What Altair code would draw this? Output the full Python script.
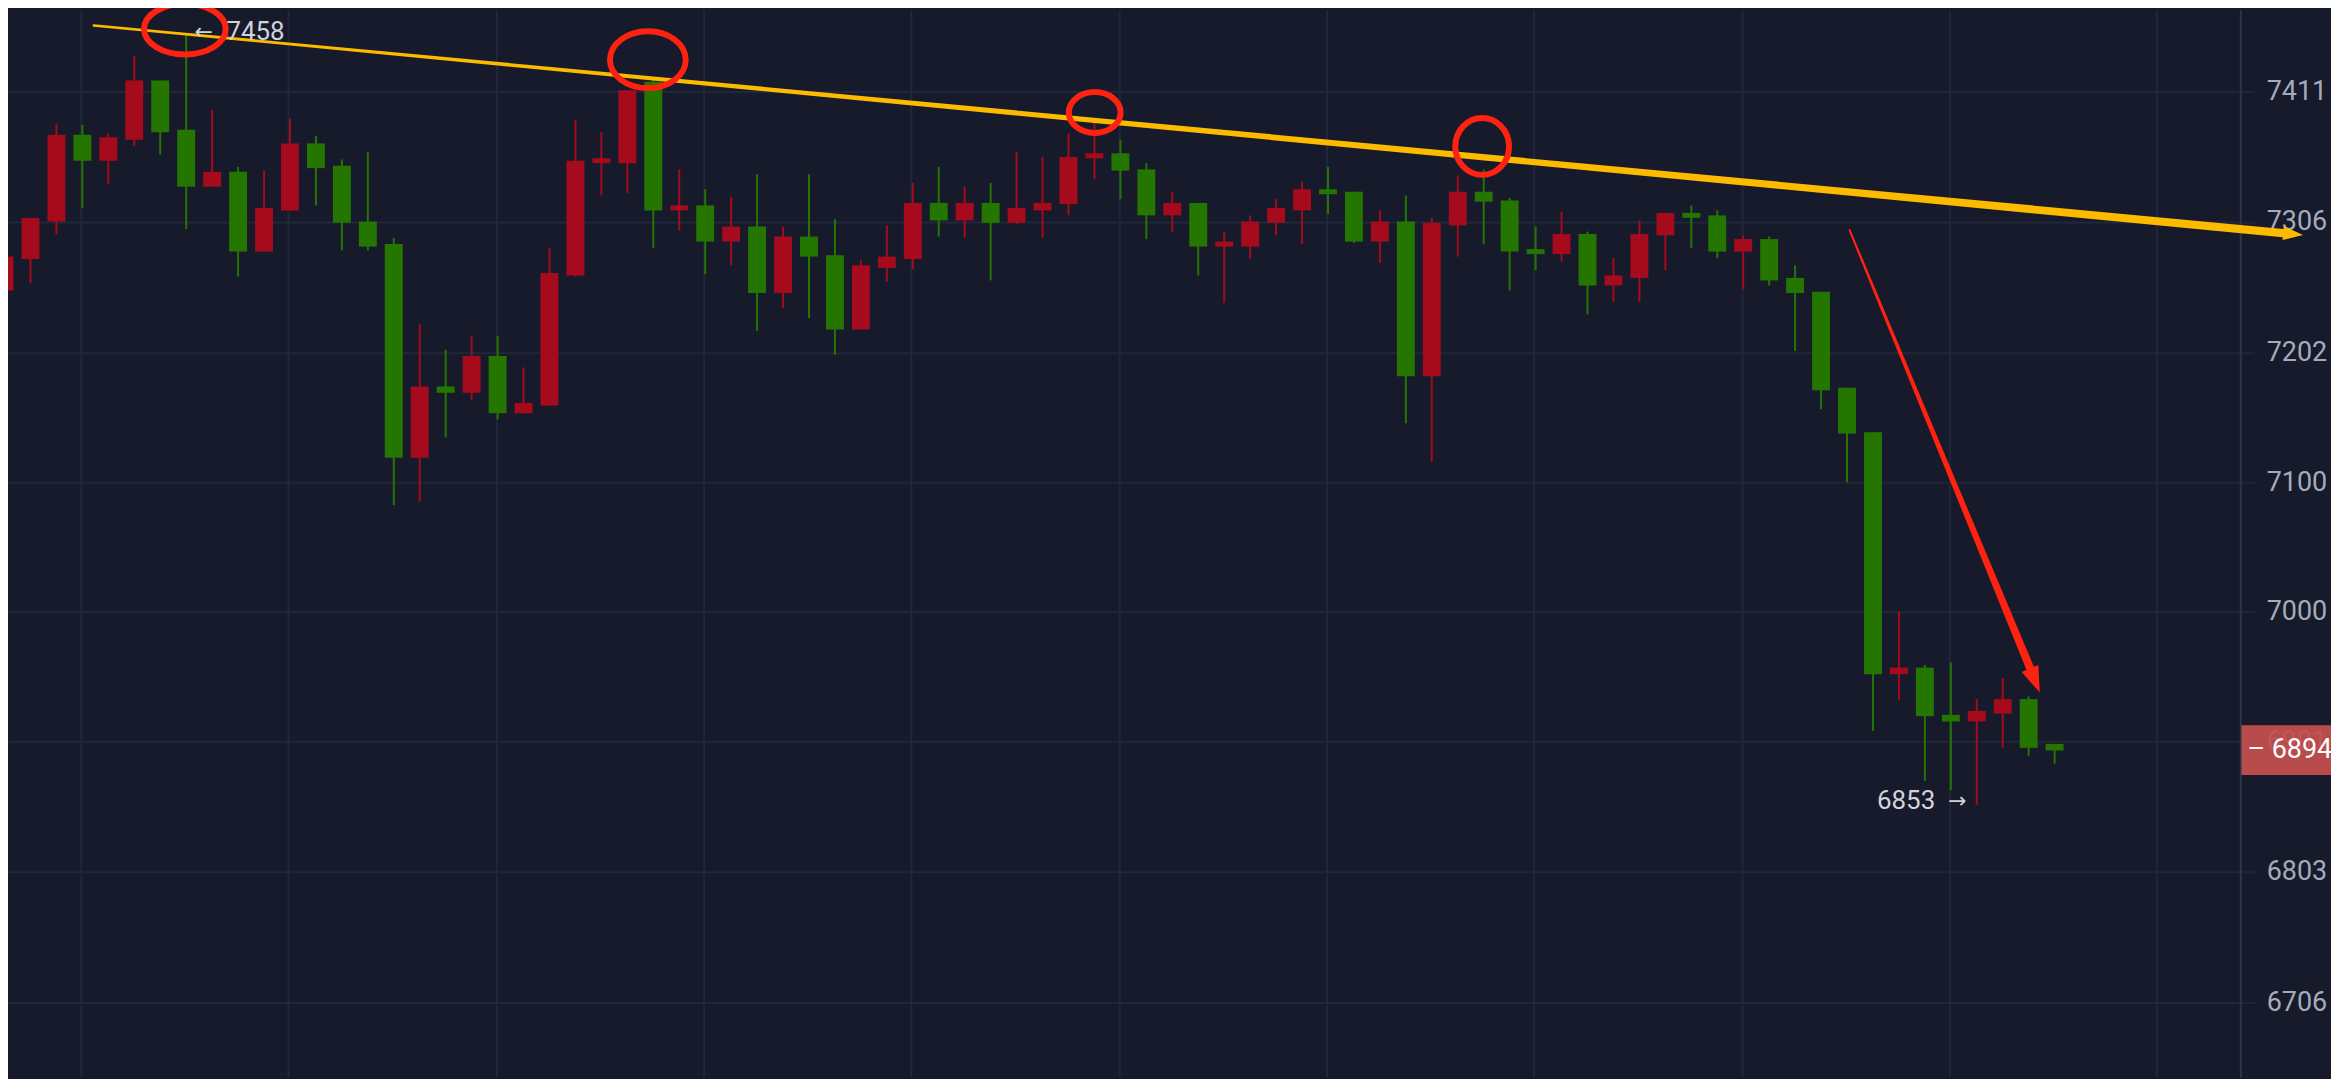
import altair as alt
import pandas as pd

# ---- candle data (index 0..79), prices ----
opens = [7251, 7276, 7306, 7376, 7355, 7372, 7420, 7380, 7334, 7346,
         7282, 7315, 7369, 7351, 7306, 7288, 7119, 7175, 7170, 7199,
         7154, 7160, 7263, 7353, 7353, 7419, 7315, 7319, 7290, 7302,
         7249, 7294, 7279, 7220, 7269, 7276, 7321, 7307, 7321, 7305,
         7315, 7320, 7357, 7361, 7348, 7311, 7321, 7286, 7286, 7305,
         7315, 7332, 7330, 7290, 7306, 7183, 7303, 7330, 7323, 7284,
         7280, 7296, 7255, 7261, 7295, 7313, 7311, 7282, 7292, 7261,
         7250, 7174, 7139, 6952, 6957, 6921, 6916, 6922, 6933, 6899]
highs = [7298, 7309, 7385, 7384, 7377, 7440, 7420, 7458, 7396, 7350,
         7347, 7389, 7375, 7356, 7362, 7293, 7224, 7204, 7215, 7215,
         7190, 7285, 7388, 7378, 7412, 7422, 7348, 7332, 7326, 7344,
         7302, 7344, 7308, 7275, 7303, 7337, 7350, 7334, 7337, 7362,
         7358, 7377, 7386, 7372, 7353, 7330, 7321, 7298, 7311, 7324,
         7338, 7350, 7330, 7315, 7327, 7309, 7343, 7348, 7325, 7302,
         7314, 7298, 7277, 7307, 7313, 7319, 7315, 7295, 7294, 7271,
         7250, 7174, 7139, 7000, 6959, 6961, 6933, 6949, 6935, 6899]
lows = [7243, 7257, 7296, 7317, 7336, 7367, 7360, 7300, 7334, 7262,
        7282, 7315, 7319, 7283, 7283, 7082, 7085, 7135, 7164, 7149,
        7154, 7160, 7262, 7327, 7329, 7285, 7299, 7264, 7271, 7219,
        7237, 7229, 7200, 7220, 7258, 7268, 7294, 7293, 7259, 7304,
        7293, 7311, 7340, 7324, 7292, 7298, 7263, 7241, 7276, 7295,
        7288, 7312, 7289, 7273, 7146, 7116, 7278, 7288, 7251, 7267,
        7274, 7232, 7242, 7242, 7267, 7285, 7277, 7252, 7255, 7203,
        7157, 7100, 6909, 6932, 6871, 6864, 6853, 6896, 6890, 6884]
closes = [7278, 7309, 7376, 7355, 7374, 7420, 7378, 7334, 7346, 7282,
          7317, 7369, 7349, 7305, 7286, 7119, 7175, 7170, 7199, 7154,
          7162, 7265, 7355, 7357, 7412, 7315, 7319, 7290, 7302, 7249,
          7294, 7278, 7220, 7271, 7278, 7321, 7307, 7321, 7305, 7317,
          7321, 7358, 7361, 7347, 7311, 7321, 7286, 7290, 7306, 7317,
          7332, 7328, 7290, 7306, 7183, 7305, 7330, 7322, 7282, 7280,
          7296, 7255, 7263, 7296, 7313, 7309, 7282, 7292, 7259, 7249,
          7172, 7138, 6952, 6957, 6920, 6916, 6924, 6933, 6896, 6894]

price_ticks = [6706, 6803, 6901, 7000, 7100, 7202, 7306, 7411]
time_grid = [2.94, 10.94, 18.94, 26.94, 34.94, 42.94, 50.94, 58.94, 66.94, 74.94, 82.94]

# yellow trend line (start, arrow base) and its arrow head
trend_i = [3.44, 87.8]
trend_p = [7465, 7296.8]
trend_w = [2.5, 8.5]
trend_head_i = [88.19]
trend_head_p = [7296.0]

# red down arrow
down_i = [71.1, 78.06]
down_p = [7299.2, 6956.4]
down_w = [2, 8]
down_head_i = [78.24]
down_head_p = [6947.2]

# red ellipses around touch points
ell_i = [6.95, 24.79, 42.01, 56.94]
ell_p = [7462, 7437, 7394, 7366.5]
ell_w = [82, 76, 52, 54]
ell_h = [51, 57, 41, 57]

# text labels: high marker and low marker (number + arrow)
hi_value = "7458"
hi_value_i = [8.55]
hi_arrow_i = [7.32]
hi_label_p = [7459.9]
lo_value = "6853"
lo_value_i = [74.40]
lo_arrow_i = [74.90]
lo_label_p = [6856]
last_price = 6894
last_box_i = [86.2, 89.7]
last_box_p = [6875.4, 6913.1]
last_text_i = [86.43]

BG = "#161a2a"
GRID = "#21273a"
AXIS_LINE = "#2c3550"
LABEL = "#a6abbb"
RED_C = "#a50b1d"
GREEN_C = "#247600"
YELLOW = "#fdbb00"
ANNOT = "#ff2211"
BOX = "#c5504f"
TEXT_C = "#d1d4dc"

candles = pd.DataFrame({"i": list(range(len(opens))), "open": opens, "high": highs,
                        "low": lows, "close": closes})

xscale = alt.Scale(domain=[0.134, 86.156], nice=False, zero=False)
yscale = alt.Scale(type="log", domain=[6651.2, 7477.8], nice=False, zero=False)
xaxis = alt.Axis(values=time_grid, labels=False, ticks=False, domain=False, grid=True,
                 gridColor=GRID, gridWidth=2, title=None)
yaxis = alt.Axis(orient="right", values=price_ticks, format="d", grid=True, gridColor=GRID,
                 gridWidth=2, ticks=True, tickColor=GRID, tickWidth=2, tickSize=14,
                 domain=True, domainColor=AXIS_LINE, domainWidth=2, labelColor=LABEL,
                 labelFont="Roboto", labelFontSize=27, labelPadding=12, labelFlush=False,
                 labelOverlap=False, title=None)


def X(field):
    return alt.X(field, type="quantitative", scale=xscale, axis=xaxis)


def Y(field):
    return alt.Y(field, type="quantitative", scale=yscale, axis=yaxis)


color_cond = alt.condition("datum.close >= datum.open", alt.value(RED_C), alt.value(GREEN_C))

wicks = alt.Chart(candles).mark_rule(strokeWidth=2).encode(
    x=X("i"), y=Y("low"), y2="high", color=color_cond)

bodies = alt.Chart(candles).transform_calculate(
    lo="datum.i - 0.3456", hi="datum.i + 0.3456"
).mark_rect().encode(x=X("lo"), x2="hi", y=Y("open"), y2="close", color=color_cond)

HEAD = "M0,-1L0.7,1L-0.7,1Z"

trend_df = pd.DataFrame({"i": trend_i, "p": trend_p, "w": trend_w})
yellow_line = alt.Chart(trend_df).mark_trail(color=YELLOW, clip=False).encode(
    x=X("i"), y=Y("p"), size=alt.Size("w:Q", scale=None, legend=None))
yellow_head = alt.Chart(pd.DataFrame({"i": trend_head_i, "p": trend_head_p})).mark_point(
    shape=HEAD, filled=True, color=YELLOW, opacity=1, size=400, angle=95.4, clip=False
).encode(x=X("i"), y=Y("p"))

down_df = pd.DataFrame({"i": down_i, "p": down_p, "w": down_w})
red_line = alt.Chart(down_df).mark_trail(color=ANNOT, clip=False).encode(
    x=X("i"), y=Y("p"), size=alt.Size("w:Q", scale=None, legend=None))
red_head = alt.Chart(pd.DataFrame({"i": down_head_i, "p": down_head_p})).mark_point(
    shape=HEAD, filled=True, color=ANNOT, opacity=1, size=676, angle=157.6, clip=False
).encode(x=X("i"), y=Y("p"))

ellipses = []
for ei, ep, ew, eh in zip(ell_i, ell_p, ell_w, ell_h):
    if ew >= eh:
        rx, ry, d = 1.0, eh / ew, ew
    else:
        rx, ry, d = ew / eh, 1.0, eh
    path = (f"M{-rx:.3f},0A{rx:.3f},{ry:.3f} 0 1,0 {rx:.3f},0"
            f"A{rx:.3f},{ry:.3f} 0 1,0 {-rx:.3f},0Z")
    ellipses.append(
        alt.Chart(pd.DataFrame({"i": [ei], "p": [ep]})).mark_point(
            shape=path, filled=False, stroke=ANNOT, strokeWidth=6, opacity=1,
            size=d * d, clip=False
        ).encode(x=X("i"), y=Y("p"))
    )


def label(xs, ps, txt, align, font, size):
    return alt.Chart(pd.DataFrame({"i": xs, "p": ps, "t": [txt]})).mark_text(
        align=align, baseline="middle", font=font, fontSize=size, color=TEXT_C, clip=False
    ).encode(x=X("i"), y=Y("p"), text="t:N")


hi_text = label(hi_value_i, hi_label_p, hi_value, "left", "Roboto", 26)
hi_arrow = label(hi_arrow_i, hi_label_p, "\u2190", "left", "DejaVu Sans", 22)
lo_text = label(lo_value_i, lo_label_p, lo_value, "right", "Roboto", 26)
lo_arrow = label(lo_arrow_i, lo_label_p, "\u2192", "left", "DejaVu Sans", 22)

box_df = pd.DataFrame({"i": [last_box_i[0]], "i2": [last_box_i[1]],
                       "p": [last_box_p[0]], "p2": [last_box_p[1]]})
price_box = alt.Chart(box_df).mark_rect(color=BOX, opacity=0.93, clip=False).encode(
    x=X("i"), x2="i2", y=Y("p"), y2="p2")
price_text = alt.Chart(pd.DataFrame({"i": last_text_i, "p": [last_price],
                                     "t": [f"\u2013 {last_price}"]})).mark_text(
    align="left", baseline="middle", font="Roboto", fontSize=27, color="#ffffff", clip=False
).encode(x=X("i"), y=Y("p"), text="t:N")

chart = alt.layer(
    wicks, bodies, yellow_line, yellow_head, *ellipses, red_line, red_head,
    hi_text, hi_arrow, lo_text, lo_arrow, price_box, price_text
).properties(
    width=2240, height=1071,
    autosize=alt.AutoSizeParams(type="none"),
    padding={"left": 0, "top": 0, "right": 91, "bottom": 0},
    background=BG,
).configure_view(strokeWidth=0, fill=BG)

chart.save("out.html", embed_options={"renderer": "svg", "actions": False})
